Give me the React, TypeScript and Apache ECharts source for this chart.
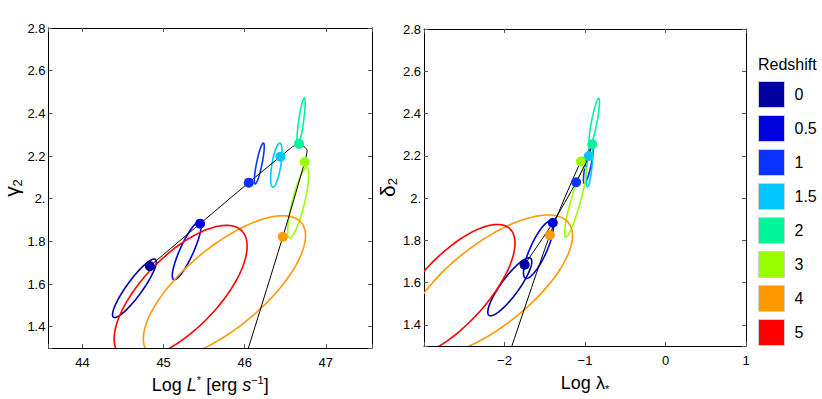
import React, { useEffect, useRef } from 'react';
import * as echarts from 'echarts';

// ---- data ----
const redshifts = ['0', '0.5', '1', '1.5', '2', '3', '4', '5'];
const colors = ['#0000a0', '#0000dc', '#0a32ff', '#00c8ff', '#00f59a', '#99ff00', '#ff9900', '#ff0000'];

// best-fit points (left: Log L*, gamma2 ; right: Log lambda*, delta2)
const logLStar = [44.83, 45.45, 46.05, 46.44, 46.67, 46.74, 46.47, 45.8];
const gamma2 = [1.684, 1.883, 2.075, 2.197, 2.257, 2.172, 1.821, 1.0];
const logLambda = [-1.75, -1.4, -1.11, -0.953, -0.91, -1.052, -1.437, -2.17];
const delta2 = [1.685, 1.883, 2.075, 2.199, 2.255, 2.173, 1.825, 1.0];

// black evolution track
const trackZ = [0, 0.5, 1, 1.5, 2, 2.5, 3, 4, 5];
const trackLogL = [44.83, 45.45, 46.05, 46.44, 46.67, 46.77, 46.74, 46.47, 45.8];
const trackGamma2 = [1.684, 1.883, 2.075, 2.197, 2.257, 2.225, 2.172, 1.821, 1.0];
const trackLogLambda = [-1.75, -1.4, -1.11, -0.953, -0.91, -0.94, -1.052, -1.437, -2.17];
const trackDelta2 = [1.685, 1.883, 2.075, 2.199, 2.255, 2.225, 2.173, 1.825, 1.0];

// confidence ellipses: centre, half-extents and correlation
const ellipseCy = [1.58, 1.756, 2.165, 2.157, 2.359, 1.98, 1.585, 1.56];
const ellipseSy = [0.137, 0.136, 0.096, 0.103, 0.113, 0.165, 0.335, 0.315];
const leftEllipseCx = [44.64, 45.285, 46.18, 46.39, 46.694, 46.66, 45.75, 45.21];
const leftEllipseSx = [0.27, 0.178, 0.061, 0.07, 0.051, 0.13, 1.0, 0.82];
const leftEllipseRho = [0.9, 0.86, 0.82, 0.6, 0.8, 0.8, 0.72, 0.69];
const rightEllipseCx = [-1.934, -1.578, -0.957, -0.944, -0.886, -1.12, -2.194, -2.65];
const rightEllipseSx = [0.273, 0.186, 0.062, 0.041, 0.066, 0.135, 1.039, 0.78];
const rightEllipseRho = [0.87, 0.8, 0.8, 0.6, 0.85, 0.89, 0.709, 0.72];

// axes
const leftXTicks = [44, 45, 46, 47];
const leftXTickLabels = ['44', '45', '46', '47'];
const rightXTicks = [-2, -1, 0, 1];
const rightXTickLabels = ['\u22122', '\u22121', '0', '1'];
const yTicks = [1.4, 1.6, 1.8, 2, 2.2, 2.4, 2.6, 2.8];
const yTickLabels = ['1.4', '1.6', '1.8', '2.', '2.2', '2.4', '2.6', '2.8'];

const FONT = '"Liberation Sans", Arial, Helvetica, sans-serif';

function labelFor(ticks: number[], labels: string[]) {
  return (v: any) => {
    const num = typeof v === 'object' && v !== null ? Number(v.value) : Number(v);
    const i = ticks.findIndex((t) => Math.abs(t - num) < 1e-6);
    return i >= 0 ? labels[i] : '';
  };
}

function xAxis(gridIndex: number, min: number, max: number, step: number, ticks: number[], labels: string[], top: boolean, name?: string, rich?: any) {
  return {
    type: 'value',
    gridIndex,
    min,
    max,
    minInterval: step,
    maxInterval: step,
    splitNumber: ticks.length,
    position: top ? 'top' : 'bottom',
    splitLine: { show: false },
    axisLine: { show: true, onZero: false, lineStyle: { color: '#000', width: 1 } },
    axisTick: { show: true, inside: true, length: 4, lineStyle: { color: '#555' } },
    axisLabel: {
      show: !top,
      formatter: labelFor(ticks, labels),
      showMinLabel: true,
      showMaxLabel: true,
      hideOverlap: false,
      fontSize: 13,
      color: '#000',
      fontFamily: FONT,
      margin: 8,
    },
    name: top ? '' : name,
    nameLocation: 'middle',
    nameGap: 26,
    nameTextStyle: { fontSize: 18, color: '#000', fontFamily: FONT, rich },
  };
}

function yAxis(gridIndex: number, right: boolean, name?: string, rich?: any) {
  return {
    type: 'value',
    gridIndex,
    min: 1.3,
    max: 2.8,
    minInterval: 0.2,
    maxInterval: 0.2,
    splitNumber: 7,
    position: right ? 'right' : 'left',
    splitLine: { show: false },
    axisLine: { show: true, onZero: false, lineStyle: { color: '#000', width: 1 } },
    axisTick: { show: true, inside: true, length: 4, lineStyle: { color: '#555' } },
    axisLabel: {
      show: !right,
      formatter: labelFor(yTicks, yTickLabels),
      showMinLabel: true,
      showMaxLabel: true,
      hideOverlap: false,
      fontSize: 13,
      color: '#000',
      fontFamily: FONT,
      margin: 3,
    },
    name: right ? '' : name,
    nameLocation: 'middle',
    nameRotate: 90,
    nameGap: 24,
    nameTextStyle: { fontSize: 20, color: '#000', fontFamily: FONT, rich },
  };
}

function ellipseSeries(xIdx: number, yIdx: number, cxArr: number[], sxArr: number[], rhoArr: number[]) {
  return {
    type: 'custom',
    xAxisIndex: xIdx,
    yAxisIndex: yIdx,
    silent: true,
    clip: true,
    z: 3,
    data: cxArr.map((cx, i) => [cx, ellipseCy[i], sxArr[i], ellipseSy[i], rhoArr[i], i]),
    encode: { x: 0, y: 1 },
    renderItem: (params: any, api: any) => {
      const cx = api.value(0);
      const cy = api.value(1);
      const sx = api.value(2);
      const sy = api.value(3);
      const rho = api.value(4);
      const ci = api.value(5);
      const k = Math.sqrt(1 - rho * rho);
      const pts: number[][] = [];
      for (let j = 0; j <= 160; j++) {
        const t = (j / 160) * 2 * Math.PI;
        pts.push(api.coord([cx + sx * Math.cos(t), cy + sy * (rho * Math.cos(t) + k * Math.sin(t))]));
      }
      const cs = params.coordSys;
      return {
        type: 'polygon',
        shape: { points: pts },
        style: { fill: 'none', stroke: colors[ci], lineWidth: 1.6 },
        clipPath: { type: 'rect', shape: { x: cs.x, y: cs.y, width: cs.width, height: cs.height } },
      };
    },
  };
}

const supRich = {
  n: { fontSize: 18, fontFamily: FONT, color: '#000', lineHeight: 22 },
  i: { fontSize: 18, fontFamily: FONT, color: '#000', fontStyle: 'italic', lineHeight: 22 },
  sup: { fontSize: 11, fontFamily: FONT, color: '#000', verticalAlign: 'top', lineHeight: 22 },
  sub: { fontSize: 11, fontFamily: FONT, color: '#000', verticalAlign: 'bottom', lineHeight: 16 },
};
const yRich = {
  g: { fontSize: 21, fontFamily: FONT, color: '#000', lineHeight: 24 },
  s: { fontSize: 13, fontFamily: FONT, color: '#000', verticalAlign: 'bottom', lineHeight: 14 },
};

export default function App() {
  const ref = useRef<HTMLDivElement>(null);
  useEffect(() => {
    if (!ref.current) return;
    const chart = echarts.init(ref.current, undefined, { renderer: 'svg' });
    const series: any[] = [
      ellipseSeries(0, 0, leftEllipseCx, leftEllipseSx, leftEllipseRho),
      ellipseSeries(1, 1, rightEllipseCx, rightEllipseSx, rightEllipseRho),
      {
        type: 'line',
        xAxisIndex: 0,
        yAxisIndex: 0,
        data: trackZ.map((_, i) => [trackLogL[i], trackGamma2[i]]),
        showSymbol: false,
        symbol: 'none',
        smooth: 0.25,
        silent: true,
        clip: true,
        z: 4,
        lineStyle: { color: '#000', width: 1 },
      },
      {
        type: 'line',
        xAxisIndex: 1,
        yAxisIndex: 1,
        data: trackZ.map((_, i) => [trackLogLambda[i], trackDelta2[i]]),
        showSymbol: false,
        symbol: 'none',
        smooth: 0.25,
        silent: true,
        clip: true,
        z: 4,
        lineStyle: { color: '#000', width: 1 },
      },
    ];
    redshifts.forEach((z, i) => {
      series.push({
        type: 'scatter',
        name: z,
        xAxisIndex: 0,
        yAxisIndex: 0,
        clip: true,
        z: 5,
        symbolSize: 10,
        itemStyle: { color: colors[i], opacity: 1 },
        data: [[logLStar[i], gamma2[i]]],
      });
      series.push({
        type: 'scatter',
        name: z,
        xAxisIndex: 1,
        yAxisIndex: 1,
        clip: true,
        z: 5,
        symbolSize: 10,
        itemStyle: { color: colors[i], opacity: 1 },
        data: [[logLambda[i], delta2[i]]],
      });
    });

    chart.setOption({
      animation: false,
      backgroundColor: '#fff',
      textStyle: { fontFamily: FONT },
      grid: [
        { left: 47, top: 28, width: 325, height: 325 },
        { left: 424, top: 29, width: 322, height: 323 },
      ],
      xAxis: [
        xAxis(0, 43.58, 47.57, 1, leftXTicks, leftXTickLabels, false, '{n|Log }{i|L}{sup|*}{n| [erg }{i|s}{sup|\u22121}{n|]}', supRich),
        xAxis(1, -3, 1, 1, rightXTicks, rightXTickLabels, false, '{n|Log \u03bb}{sub|*}', supRich),
        xAxis(0, 43.58, 47.57, 1, leftXTicks, leftXTickLabels, true),
        xAxis(1, -3, 1, 1, rightXTicks, rightXTickLabels, true),
      ],
      yAxis: [
        yAxis(0, false, '{g|\u03b3}{s|2}', yRich),
        yAxis(1, false, '{g|\u03b4}{s|2}', yRich),
        yAxis(0, true),
        yAxis(1, true),
      ],
      legend: {
        data: redshifts,
        orient: 'vertical',
        left: 758,
        top: 81,
        padding: 0,
        itemWidth: 26,
        itemHeight: 26,
        itemGap: 7,
        icon: 'rect',
        selectedMode: false,
        itemStyle: { borderColor: '#cfcfcf', borderWidth: 1 },
        textStyle: { fontSize: 16, color: '#000', fontFamily: FONT, padding: [0, 0, 0, 5] },
      },
      graphic: [
        {
          type: 'text',
          left: 758,
          top: 56,
          style: { text: 'Redshift', fontSize: 16, fontFamily: FONT, fill: '#000' },
        },
      ],
      series,
    });
    return () => chart.dispose();
  }, []);
  return <div ref={ref} style={{ position: 'fixed', left: 0, top: 0, width: 822, height: 399, background: '#fff' }} />;
}
